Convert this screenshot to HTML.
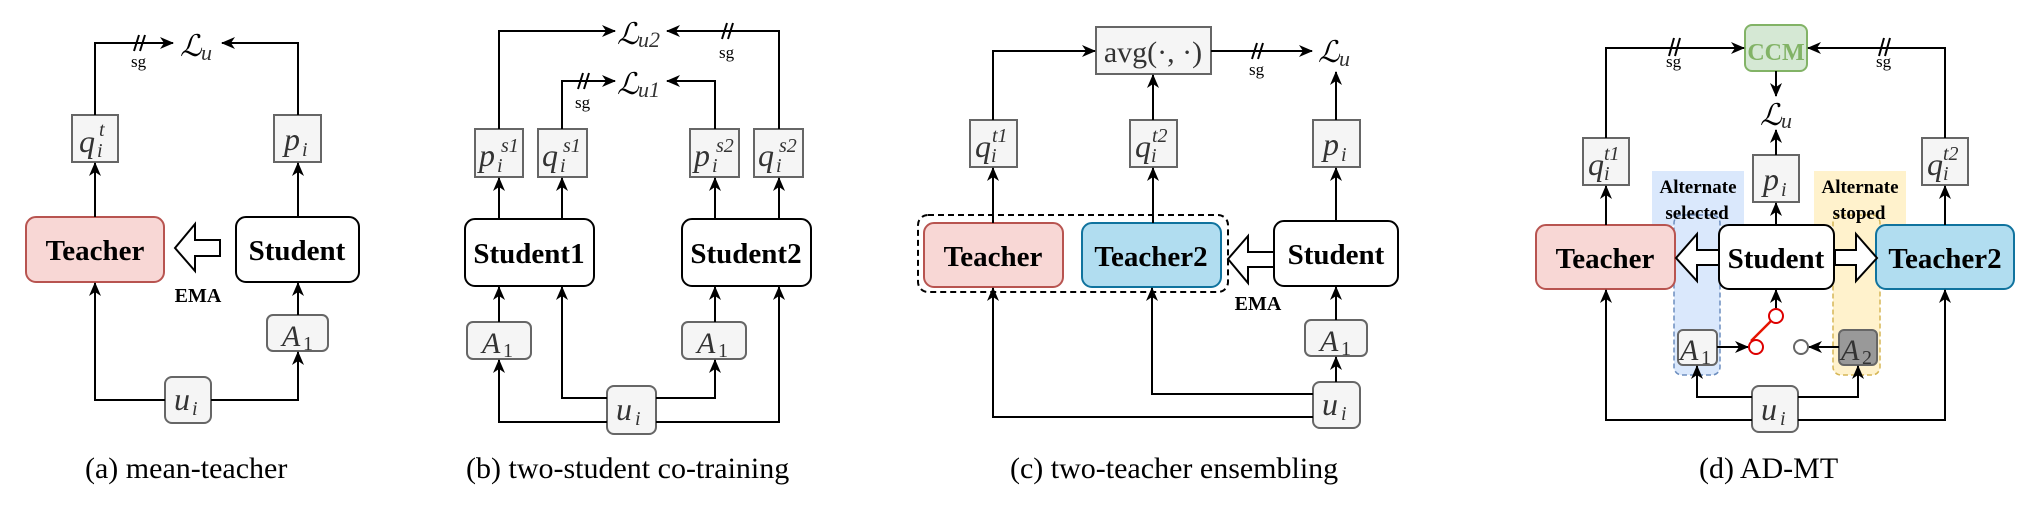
<!DOCTYPE html>
<html><head><meta charset="utf-8"><style>
body{margin:0;background:#fff}
svg{display:block}
.b{fill:#f5f5f5;stroke:#666;stroke-width:2}
.l{fill:none;stroke:#000;stroke-width:2}
.m{font-family:"Liberation Serif",serif;font-style:italic;fill:#333}
.L{font-family:"DejaVu Serif",serif;font-style:italic;fill:#000}
.t{font-family:"Liberation Serif",serif;font-weight:bold;fill:#000}
.c{font-family:"Liberation Serif",serif;font-size:30px;fill:#000}
.s{font-family:"Liberation Serif",serif;font-size:17px;fill:#000}
</style></head><body>
<svg width="2040" height="521" viewBox="0 0 2040 521" xmlns="http://www.w3.org/2000/svg">
<defs>
<marker id="a" markerUnits="userSpaceOnUse" markerWidth="16" markerHeight="14" refX="13" refY="7" orient="auto">
<path d="M0,1 L14,7 L0,13 L4,7 z" fill="#000"/></marker>
</defs>

<!-- ============ (a) ============ -->
<g>
<rect class="b" x="72" y="115" width="46" height="47"/>
<text class="m" x="79" y="152" font-size="32">q</text><text class="m" x="99" y="136" font-size="20">t</text><text class="m" x="97" y="157" font-size="20">i</text>
<rect class="b" x="274" y="115" width="47" height="47"/>
<text class="m" x="284" y="150" font-size="32">p</text><text class="m" x="302" y="156" font-size="20">i</text>
<rect x="26" y="217" width="138" height="65" rx="10" fill="#f8d7d5" stroke="#b85450" stroke-width="2"/>
<text class="t" x="95" y="260" font-size="29" text-anchor="middle">Teacher</text>
<rect x="236" y="217" width="123" height="65" rx="10" fill="#fff" stroke="#000" stroke-width="2"/>
<text class="t" x="297" y="260" font-size="29" text-anchor="middle">Student</text>
<polygon points="175,248 195,224 195,240 220,240 220,256 195,256 195,271" fill="#fff" stroke="#000" stroke-width="2"/>
<text class="t" x="198" y="302" font-size="20" text-anchor="middle">EMA</text>
<rect class="b" x="267" y="315" width="61" height="36" rx="6"/>
<text class="m" x="282" y="346" font-size="30">A</text><text x="303" y="350" font-size="20" font-family="Liberation Serif" fill="#333">1</text>
<rect class="b" x="165" y="377" width="46" height="46" rx="7"/>
<text class="m" x="174" y="410" font-size="32">u</text><text class="m" x="192" y="415" font-size="20">i</text>
<path class="l" d="M95,217 V163" marker-end="url(#a)"/>
<path class="l" d="M95,115 V43 H173" marker-end="url(#a)"/>
<path class="l" d="M298,115 V43 H222" marker-end="url(#a)"/>
<path class="l" d="M298,217 V163" marker-end="url(#a)"/>
<path class="l" d="M298,315 V283" marker-end="url(#a)"/>
<path class="l" d="M165,400 H95 V283" marker-end="url(#a)"/>
<path class="l" d="M211,400 H298 V352" marker-end="url(#a)"/>
<path class="l" d="M134,51 L139,35 M140,51 L145,35"/>
<text class="s" x="131" y="67">sg</text>
<text class="L" x="180" y="56" font-size="30">ℒ</text><text class="m" x="201" y="60" font-size="22" fill="#000">u</text>
<text class="c" x="85" y="478">(a) mean-teacher</text>
</g>

<!-- ============ (b) ============ -->
<g>
<rect class="b" x="475" y="129" width="48" height="48"/>
<text class="m" x="479" y="166" font-size="32">p</text><text class="m" x="501" y="152" font-size="20">s1</text><text class="m" x="497" y="172" font-size="20">i</text>
<rect class="b" x="538" y="129" width="49" height="48"/>
<text class="m" x="542" y="166" font-size="32">q</text><text class="m" x="563" y="152" font-size="20">s1</text><text class="m" x="560" y="172" font-size="20">i</text>
<rect class="b" x="690" y="129" width="49" height="48"/>
<text class="m" x="694" y="166" font-size="32">p</text><text class="m" x="716" y="152" font-size="20">s2</text><text class="m" x="712" y="172" font-size="20">i</text>
<rect class="b" x="754" y="129" width="49" height="48"/>
<text class="m" x="758" y="166" font-size="32">q</text><text class="m" x="779" y="152" font-size="20">s2</text><text class="m" x="776" y="172" font-size="20">i</text>
<rect x="465" y="219" width="129" height="67" rx="10" fill="#fff" stroke="#000" stroke-width="2"/>
<text class="t" x="529" y="263" font-size="29" text-anchor="middle">Student1</text>
<rect x="682" y="219" width="129" height="67" rx="10" fill="#fff" stroke="#000" stroke-width="2"/>
<text class="t" x="746" y="263" font-size="29" text-anchor="middle">Student2</text>
<rect class="b" x="467" y="322" width="64" height="37" rx="6"/>
<text class="m" x="482" y="353" font-size="30">A</text><text x="503" y="357" font-size="20" font-family="Liberation Serif" fill="#333">1</text>
<rect class="b" x="682" y="322" width="64" height="37" rx="6"/>
<text class="m" x="697" y="353" font-size="30">A</text><text x="718" y="357" font-size="20" font-family="Liberation Serif" fill="#333">1</text>
<rect class="b" x="607" y="386" width="49" height="48" rx="7"/>
<text class="m" x="616" y="420" font-size="32">u</text><text class="m" x="635" y="425" font-size="20">i</text>
<path class="l" d="M499,219 V178" marker-end="url(#a)"/>
<path class="l" d="M562,219 V178" marker-end="url(#a)"/>
<path class="l" d="M715,219 V178" marker-end="url(#a)"/>
<path class="l" d="M779,219 V178" marker-end="url(#a)"/>
<path class="l" d="M499,129 V31 H615" marker-end="url(#a)"/>
<path class="l" d="M779,129 V31 H667" marker-end="url(#a)"/>
<path class="l" d="M562,129 V81 H615" marker-end="url(#a)"/>
<path class="l" d="M715,129 V81 H667" marker-end="url(#a)"/>
<path class="l" d="M499,322 V287" marker-end="url(#a)"/>
<path class="l" d="M715,322 V287" marker-end="url(#a)"/>
<path class="l" d="M607,398 H562 V287" marker-end="url(#a)"/>
<path class="l" d="M656,398 H715 V360" marker-end="url(#a)"/>
<path class="l" d="M607,422 H499 V360" marker-end="url(#a)"/>
<path class="l" d="M656,422 H779 V287" marker-end="url(#a)"/>
<path class="l" d="M722,39 L727,23 M728,39 L733,23"/>
<text class="s" x="719" y="58">sg</text>
<path class="l" d="M578,89 L583,73 M584,89 L589,73"/>
<text class="s" x="575" y="108">sg</text>
<text class="L" x="617" y="44" font-size="30">ℒ</text><text class="m" x="638" y="47" font-size="22" fill="#000">u2</text>
<text class="L" x="617" y="94" font-size="30">ℒ</text><text class="m" x="638" y="97" font-size="22" fill="#000">u1</text>
<text class="c" x="466" y="478">(b) two-student co-training</text>
</g>

<!-- ============ (c) ============ -->
<g>
<rect class="b" x="1096" y="27" width="115" height="47"/>
<text x="1153" y="62" font-size="30" font-family="Liberation Serif" fill="#333" text-anchor="middle">avg(·, ·)</text>
<rect class="b" x="970" y="120" width="47" height="47"/>
<text class="m" x="975" y="157" font-size="32">q</text><text class="m" x="992" y="142" font-size="20">t1</text><text class="m" x="991" y="162" font-size="20">i</text>
<rect class="b" x="1130" y="120" width="47" height="47"/>
<text class="m" x="1135" y="157" font-size="32">q</text><text class="m" x="1152" y="142" font-size="20">t2</text><text class="m" x="1151" y="162" font-size="20">i</text>
<rect class="b" x="1313" y="120" width="47" height="47"/>
<text class="m" x="1323" y="155" font-size="32">p</text><text class="m" x="1341" y="161" font-size="20">i</text>
<rect x="918" y="215" width="310" height="77" rx="10" fill="none" stroke="#000" stroke-width="2" stroke-dasharray="6,4"/>
<rect x="924" y="223" width="139" height="64" rx="10" fill="#f8d7d5" stroke="#b85450" stroke-width="2"/>
<text class="t" x="993" y="266" font-size="29" text-anchor="middle">Teacher</text>
<rect x="1082" y="223" width="139" height="64" rx="10" fill="#b1ddf0" stroke="#10739e" stroke-width="2"/>
<text class="t" x="1151" y="266" font-size="29" text-anchor="middle">Teacher2</text>
<rect x="1274" y="221" width="124" height="65" rx="10" fill="#fff" stroke="#000" stroke-width="2"/>
<text class="t" x="1336" y="264" font-size="29" text-anchor="middle">Student</text>
<polygon points="1228,259 1248,236 1248,252 1274,252 1274,267 1248,267 1248,283" fill="#fff" stroke="#000" stroke-width="2"/>
<text class="t" x="1258" y="310" font-size="20" text-anchor="middle">EMA</text>
<rect class="b" x="1305" y="320" width="62" height="36" rx="6"/>
<text class="m" x="1320" y="351" font-size="30">A</text><text x="1341" y="355" font-size="20" font-family="Liberation Serif" fill="#333">1</text>
<rect class="b" x="1313" y="382" width="47" height="46" rx="7"/>
<text class="m" x="1322" y="415" font-size="32">u</text><text class="m" x="1341" y="420" font-size="20">i</text>
<path class="l" d="M993,223 V168" marker-end="url(#a)"/>
<path class="l" d="M1153,223 V168" marker-end="url(#a)"/>
<path class="l" d="M1336,221 V168" marker-end="url(#a)"/>
<path class="l" d="M993,120 V51 H1095" marker-end="url(#a)"/>
<path class="l" d="M1153,120 V75" marker-end="url(#a)"/>
<path class="l" d="M1336,120 V72" marker-end="url(#a)"/>
<path class="l" d="M1211,51 H1312" marker-end="url(#a)"/>
<path class="l" d="M1336,320 V287" marker-end="url(#a)"/>
<path class="l" d="M1336,382 V357" marker-end="url(#a)"/>
<path class="l" d="M1313,394 H1152 V288" marker-end="url(#a)"/>
<path class="l" d="M1313,417 H993 V288" marker-end="url(#a)"/>
<path class="l" d="M1252,59 L1257,43 M1258,59 L1263,43"/>
<text class="s" x="1249" y="75">sg</text>
<text class="L" x="1318" y="62" font-size="30">ℒ</text><text class="m" x="1339" y="66" font-size="22" fill="#000">u</text>
<text class="c" x="1010" y="478">(c) two-teacher ensembling</text>
</g>

<!-- ============ (d) ============ -->
<g>
<rect x="1652" y="171" width="92" height="55" fill="#dae8fc"/>
<rect x="1674" y="215" width="46" height="160" rx="8" fill="#dae8fc" stroke="#6c8ebf" stroke-width="1.5" stroke-dasharray="5,3"/>
<rect x="1814" y="171" width="92" height="55" fill="#fff2cc"/>
<rect x="1833" y="215" width="47" height="160" rx="8" fill="#fff2cc" stroke="#d6b656" stroke-width="1.5" stroke-dasharray="5,3"/>
<text class="t" x="1698" y="193" font-size="19" text-anchor="middle">Alternate</text>
<text class="t" x="1697" y="219" font-size="19" text-anchor="middle">selected</text>
<text class="t" x="1860" y="193" font-size="19" text-anchor="middle">Alternate</text>
<text class="t" x="1859" y="219" font-size="19" text-anchor="middle">stoped</text>
<rect x="1745" y="25" width="62" height="46" rx="7" fill="#d5e8d4" stroke="#82b366" stroke-width="2"/>
<text x="1776" y="60" font-size="24" font-weight="bold" font-family="Liberation Serif" fill="#82b366" text-anchor="middle">CCM</text>
<rect class="b" x="1583" y="138" width="46" height="47"/>
<text class="m" x="1588" y="175" font-size="32">q</text><text class="m" x="1604" y="160" font-size="20">t1</text><text class="m" x="1604" y="180" font-size="20">i</text>
<rect class="b" x="1922" y="138" width="46" height="47"/>
<text class="m" x="1927" y="175" font-size="32">q</text><text class="m" x="1943" y="160" font-size="20">t2</text><text class="m" x="1943" y="180" font-size="20">i</text>
<rect class="b" x="1753" y="155" width="46" height="47"/>
<text class="m" x="1763" y="190" font-size="32">p</text><text class="m" x="1781" y="196" font-size="20">i</text>
<rect x="1536" y="225" width="139" height="64" rx="10" fill="#f8d7d5" stroke="#b85450" stroke-width="2"/>
<text class="t" x="1605" y="268" font-size="29" text-anchor="middle">Teacher</text>
<rect x="1719" y="225" width="115" height="64" rx="10" fill="#fff" stroke="#000" stroke-width="2"/>
<text class="t" x="1776" y="268" font-size="29" text-anchor="middle">Student</text>
<rect x="1876" y="225" width="138" height="64" rx="10" fill="#b1ddf0" stroke="#10739e" stroke-width="2"/>
<text class="t" x="1945" y="268" font-size="29" text-anchor="middle">Teacher2</text>
<polygon points="1676,258 1697,234 1697,250 1719,250 1719,265 1697,265 1697,281" fill="#fff" stroke="#000" stroke-width="2"/>
<polygon points="1877,258 1856,234 1856,250 1835,250 1835,265 1856,265 1856,281" fill="#fff" stroke="#000" stroke-width="2"/>
<rect class="b" x="1678" y="330" width="39" height="35" rx="5"/>
<text class="m" x="1680" y="360" font-size="30">A</text><text x="1701" y="364" font-size="20" font-family="Liberation Serif" fill="#333">1</text>
<rect x="1839" y="330" width="38" height="35" rx="5" fill="#999" stroke="#666" stroke-width="2"/>
<text class="m" x="1841" y="360" font-size="30">A</text><text x="1862" y="364" font-size="20" font-family="Liberation Serif" fill="#333">2</text>
<rect class="b" x="1752" y="386" width="46" height="46" rx="7"/>
<text class="m" x="1761" y="420" font-size="32">u</text><text class="m" x="1780" y="425" font-size="20">i</text>
<path class="l" d="M1606,225 V186" marker-end="url(#a)"/>
<path class="l" d="M1945,225 V186" marker-end="url(#a)"/>
<path class="l" d="M1776,225 V203" marker-end="url(#a)"/>
<path class="l" d="M1776,155 V130" marker-end="url(#a)"/>
<path class="l" d="M1776,71 V96" marker-end="url(#a)"/>
<path class="l" d="M1606,138 V48 H1744" marker-end="url(#a)"/>
<path class="l" d="M1945,138 V48 H1808" marker-end="url(#a)"/>
<path class="l" d="M1776,309 V290" marker-end="url(#a)"/>
<path class="l" d="M1717,347 H1748" marker-end="url(#a)"/>
<path class="l" d="M1839,347 H1809" marker-end="url(#a)"/>
<line x1="1751" y1="341" x2="1771" y2="321" stroke="#e51400" stroke-width="2.5"/>
<circle cx="1776" cy="316" r="7" fill="#fff" stroke="#d00" stroke-width="2"/>
<circle cx="1756" cy="347" r="7" fill="#fff" stroke="#d00" stroke-width="2"/>
<circle cx="1801" cy="347" r="7" fill="#fff" stroke="#666" stroke-width="2"/>
<path class="l" d="M1752,397 H1697 V366" marker-end="url(#a)"/>
<path class="l" d="M1798,397 H1858 V366" marker-end="url(#a)"/>
<path class="l" d="M1752,420 H1606 V290" marker-end="url(#a)"/>
<path class="l" d="M1798,420 H1945 V290" marker-end="url(#a)"/>
<path class="l" d="M1669,56 L1674,38 M1675,56 L1680,38"/>
<text class="s" x="1666" y="67">sg</text>
<path class="l" d="M1879,56 L1884,38 M1885,56 L1890,38"/>
<text class="s" x="1876" y="67">sg</text>
<text class="L" x="1760" y="125" font-size="30">ℒ</text><text class="m" x="1781" y="128" font-size="22" fill="#000">u</text>
<text class="c" x="1699" y="478">(d) AD-MT</text>
</g>
</svg>
</body></html>
